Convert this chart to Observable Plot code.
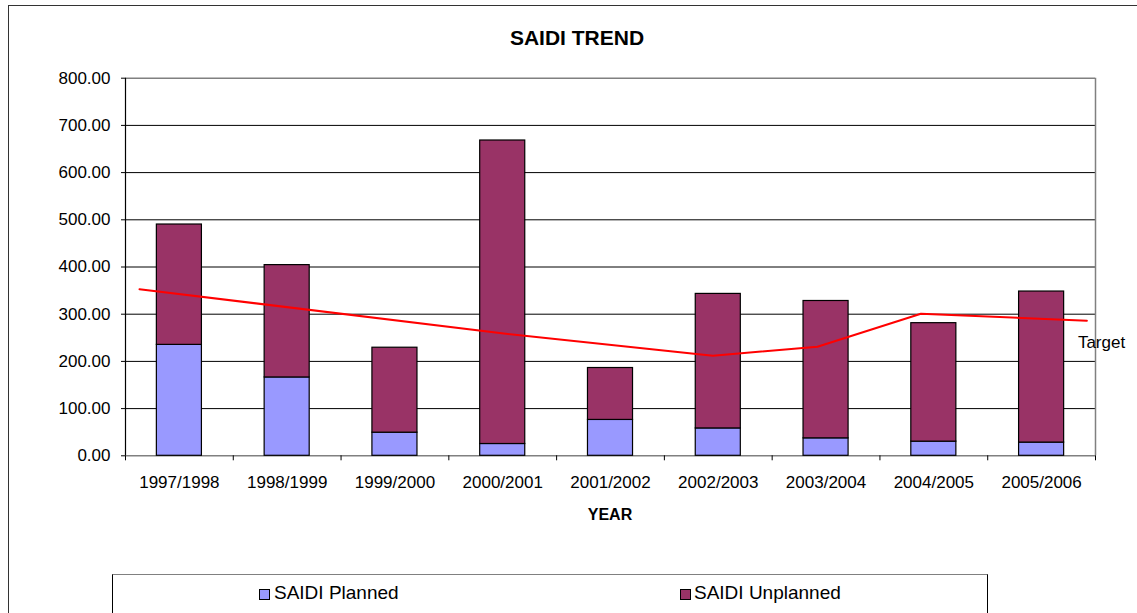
<!DOCTYPE html>
<html>
<head>
<meta charset="utf-8">
<script src="https://cdn.jsdelivr.net/npm/d3@7"></script>
<script src="https://cdn.jsdelivr.net/npm/@observablehq/plot@0.6"></script>
<style>
  html, body { margin: 0; padding: 0; background: #fff; }
  #wrap { position: relative; width: 1137px; height: 613px; overflow: hidden; font-family: "Liberation Sans", Arial, sans-serif; color: #000; }
  #wrap svg { position: absolute; left: 0; top: 0; }
  .abs { position: absolute; line-height: 1; white-space: nowrap; }
</style>
</head>
<body>
<div id="wrap">
  <div class="abs" style="left:8px;top:5px;width:1140px;height:700px;border-left:1.5px solid #333;border-top:1.5px solid #333;"></div>
  <div id="plot"></div>
  <div class="abs" style="left:0;width:1154px;top:26.6px;text-align:center;font-size:21px;font-weight:bold;">SAIDI TREND</div>
  <div class="abs" style="left:0;width:1220px;top:506.7px;text-align:center;font-size:16px;font-weight:bold;">YEAR</div>
  <div id="legend" class="abs" style="left:112px;top:574px;width:874px;height:60px;border:1px solid #000;border-top-color:#808080;"></div>
</div>
<script>
const years = ["1997/1998","1998/1999","1999/2000","2000/2001","2001/2002","2002/2003","2003/2004","2004/2005","2005/2006"];
const planned = [235, 166, 49, 25, 76, 58, 37, 30, 28];
const unplanned = [255, 238, 180, 643, 110, 285, 291, 251, 320];
const targetPos = [-0.37, 3.01, 4.95, 5.92, 6.88, 8.42];
const targetValues = [353, 259, 212, 231, 301, 286];
const yTicks = [0, 100, 200, 300, 400, 500, 600, 700, 800];
const seriesNames = ["SAIDI Planned", "SAIDI Unplanned"];
const seriesColors = ["#9999FF", "#993366"];

const idx = d3.range(years.length);
const boundaries = d3.range(years.length + 1).map(i => i - 0.5);
const halfW = 0.209;
const target = targetPos.map((x, i) => ({x, y: targetValues[i]}));

const chart = Plot.plot({
  width: 1137,
  height: 613,
  marginLeft: 125,
  marginRight: 42,
  marginTop: 77.7,
  marginBottom: 157.7,
  style: {fontFamily: "'Liberation Sans', Arial, sans-serif", fontSize: "17px", background: "transparent", color: "#000", overflow: "visible"},
  x: {type: "linear", domain: [-0.5, 8.5]},
  y: {domain: [0, 800]},
  marks: [
    Plot.ruleY(yTicks.filter(d => d > 0 && d < 800), {stroke: "#000", strokeWidth: 1, strokeOpacity: 1}),
    Plot.ruleY([800], {stroke: "#808080", strokeWidth: 1.5}),
    Plot.ruleY([0], {stroke: "#808080", strokeWidth: 1.5}),
    Plot.ruleX([8.5], {stroke: "#808080", strokeWidth: 1.5}),
    Plot.rect(idx, {x1: i => i - halfW, x2: i => i + halfW, y1: 0, y2: i => planned[i], fill: seriesColors[0], stroke: "#000", strokeWidth: 1.2}),
    Plot.rect(idx, {x1: i => i - halfW, x2: i => i + halfW, y1: i => planned[i], y2: i => planned[i] + unplanned[i], fill: seriesColors[1], stroke: "#000", strokeWidth: 1.2}),
    Plot.line(target, {x: "x", y: "y", stroke: "#FF0000", strokeWidth: 2}),
    Plot.text([target[target.length - 1]], {x: "x", y: "y", text: () => "Target", textAnchor: "start", dx: -9, dy: 21.5, fontSize: 17, fill: "#000"}),
    Plot.ruleX([-0.5], {stroke: "#000", strokeWidth: 1.2}),
    Plot.axisY({ticks: yTicks, tickFormat: d3.format(".2f"), tickSize: 4, tickPadding: 11, label: null, stroke: "#000", fontSize: 17}),
    Plot.axisX({ticks: boundaries, tickSize: 5, tickFormat: () => "", label: null, stroke: "#000"}),
    Plot.axisX({ticks: idx, tickSize: 0, tickPadding: 20, tickFormat: i => years[i], label: null, fontSize: 17})
  ]
});
document.getElementById("plot").appendChild(chart);

// legend
const legend = document.getElementById("legend");
const items = [{sq: 259, tx: 274}, {sq: 680, tx: 694}];
seriesNames.forEach((name, i) => {
  const sq = document.createElement("div");
  sq.className = "abs";
  sq.style.cssText = `left:${items[i].sq - 113}px;top:${589 - 575}px;width:9px;height:9px;background:${seriesColors[i]};border:1px solid #000;`;
  legend.appendChild(sq);
  const t = document.createElement("div");
  t.className = "abs";
  t.style.cssText = `left:${items[i].tx - 113}px;top:${582.9 - 575}px;font-size:19px;`;
  t.textContent = name;
  legend.appendChild(t);
});
</script>
</body>
</html>
